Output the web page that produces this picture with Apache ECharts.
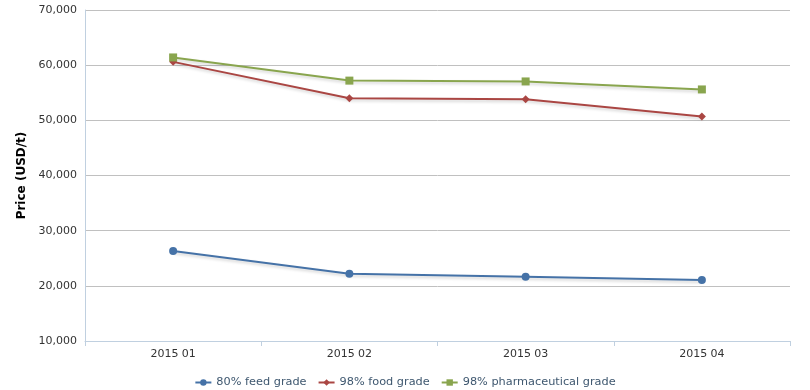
<!DOCTYPE html>
<html><head><meta charset="utf-8">
<script src="https://cdn.jsdelivr.net/npm/echarts@6/dist/echarts.min.js"></script>
<style>html,body{margin:0;padding:0;background:#fff}#c{width:810px;height:390px}</style>
</head><body><div id="c"></div>
<script>
const categories = ['2015 01', '2015 02', '2015 03', '2015 04'];
const feedGrade = [26300, 22200, 21650, 21050];
const foodGrade = [60600, 54000, 53800, 50700];
const pharmaGrade = [61400, 57200, 57050, 55600];
const seriesNames = ['80% feed grade', '98% food grade', '98% pharmaceutical grade'];
const yTicks = { min: 10000, max: 70000, interval: 10000 };

const font = 'DejaVu Sans, Verdana, sans-serif';
const chart = echarts.init(document.getElementById('c'));
function mk(name, data, color, symbol, size) {
  return {
    name, type: 'line', data, symbol, symbolSize: size, showSymbol: true,
    lineStyle: { width: 2, color, shadowColor: 'rgba(0,0,0,0.18)', shadowBlur: 3, shadowOffsetY: 2, shadowOffsetX: 1 },
    itemStyle: { color },
    emphasis: { disabled: true }, animation: false
  };
}
chart.setOption({
  animation: false,
  textStyle: { fontFamily: font },
  grid: { left: 85, right: 20, top: 10, bottom: 49, containLabel: false },
  legend: {
    top: 372, left: 'center', itemWidth: 16, itemHeight: 8, itemGap: 11,
    textStyle: { fontSize: 11.3, color: '#3E576F', fontFamily: font },
    data: seriesNames
  },
  xAxis: {
    type: 'category', data: categories, boundaryGap: true,
    axisLine: { lineStyle: { color: '#C0D0E0', width: 1 } },
    axisTick: { show: true, length: 5, lineStyle: { color: '#C0D0E0' } },
    axisLabel: { fontSize: 11, color: '#333', margin: 8, fontFamily: font },
    splitLine: { show: false }
  },
  yAxis: {
    type: 'value', min: yTicks.min, max: yTicks.max, interval: yTicks.interval,
    name: 'Price (USD/t)', nameLocation: 'middle', nameGap: 50, nameRotate: 90,
    nameTextStyle: { fontSize: 12, fontWeight: 'bold', color: '#000', fontFamily: font },
    axisLine: { show: true, lineStyle: { color: '#C0D0E0', width: 1 } },
    axisTick: { show: false },
    axisLabel: { fontSize: 11, color: '#333', margin: 8, fontFamily: font,
      formatter: v => v.toLocaleString('en-US') },
    splitLine: { lineStyle: { color: '#C0C0C0', width: 1 } }
  },
  series: [
    mk(seriesNames[0], feedGrade, '#4572A7', 'circle', 8),
    mk(seriesNames[1], foodGrade, '#AA4643', 'diamond', 8),
    mk(seriesNames[2], pharmaGrade, '#89A54E', 'rect', 8)
  ]
});
</script></body></html>
